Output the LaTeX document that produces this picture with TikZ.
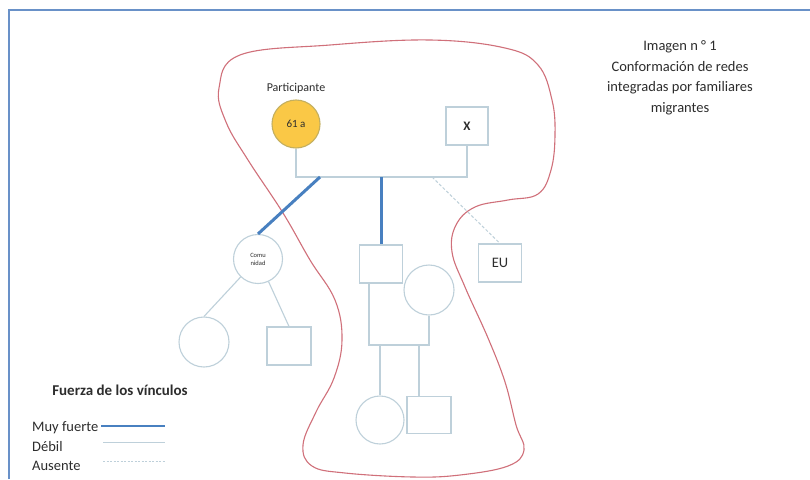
\documentclass[tikz,border=0pt]{standalone}
\usepackage{fontspec}
\setmainfont{Carlito}
\definecolor{framec}{RGB}{105,145,200}
\definecolor{strongc}{RGB}{72,128,192}
\definecolor{thinc}{RGB}{190,208,218}
\definecolor{redc}{RGB}{208,112,122}
\definecolor{yellowc}{RGB}{250,200,70}
\definecolor{yellowb}{RGB}{195,175,95}
\definecolor{textc}{RGB}{45,45,45}
\begin{document}
\begin{tikzpicture}[x=1pt,y=-1pt,
  thin/.style={draw=thinc, line width=1.1pt},
  strong/.style={draw=strongc, line width=3pt},
  absent/.style={draw=thinc, line width=1pt, dash pattern=on 3pt off 2pt},
  sq/.style={rectangle, draw=thinc, line width=1.1pt, minimum width=43pt, minimum height=38pt, inner sep=0pt, text=textc},
  circ/.style={circle, draw=thinc, line width=1.1pt, minimum size=50pt, inner sep=0pt, text=textc},
  lbl/.style={text=textc, inner sep=0pt},
  every node/.style={text=textc}]
\useasboundingbox (0,0) rectangle (810,479);
\fill[white] (0,0) rectangle (810,479);
% frame
\draw[framec, line width=2.5pt] (9,479) -- (9,10) -- (810,10);

% red enclosing curve
\draw[redc, line width=1.1pt] plot[smooth cycle, tension=0.65] coordinates {
  (219,88) (240,55) (330,45) (430,40) (505,48) (538,65) (552,100) (555,135) (551,170)
  (538,194) (508,200) (475,207) (456,225) (452,252) (465,287) (488,338) (505,382)
  (516,425) (524,450) (508,466) (460,475) (413,477) (345,473) (312,466) (303,445)
  (316,412) (334,378) (342,340) (335,300) (310,260) (283,213) (248,160) (226,122)};

% title
\node[lbl, align=center, font=\fontsize{14.5}{20.5}\selectfont] (title) at (680,78)
  {Imagen n ° 1\\Conformación de redes\\integradas por familiares\\migrantes};

% participant and partner
\node[lbl, font=\fontsize{12}{14}\selectfont] (plabel) at (296,88) {Participante};
\node[circ, fill=yellowc, draw=yellowb, minimum size=48pt, font=\fontsize{11}{13}\selectfont] (p) at (296,124) {61 a};
\node[sq, minimum width=42pt, minimum height=38pt, font=\fontsize{13}{15}\selectfont\bfseries] (x) at (467,126) {X};
\coordinate (hl) at (296,177);
\coordinate (hr) at (467,177);
\draw[thin] (p.south) -- (hl) -- (hr) -- (x.south);

% children of the couple
\node[circ, minimum size=49pt, align=center, font=\fontsize{6.5}{8}\selectfont] (com) at (258,259) {Comu\\nidad};
\node[sq] (a) at (381,264) {};
\node[sq, font=\fontsize{14.5}{16}\selectfont] (eu) at (500,263) {EU};
\coordinate (s1) at (320,177);
\coordinate (s2) at (381,177);
\coordinate (s3) at (432,177);
\draw[strong] (s1) -- (com.north);
\draw[strong] (s2) -- (a.north);
\draw[absent] (s3) -- (eu.north);

% family of a
\node[circ] (b) at (429,290) {};
\coordinate (j1) at (369,345);
\coordinate (j2) at (429,345);
\draw[thin] (j1 |- a.south) -- (j1) -- (j2) -- (b.south);
\node[circ, minimum size=48pt] (c) at (380,420) {};
\node[sq, minimum width=44pt, minimum height=37pt] (d) at (429,415) {};
\coordinate (k1) at (380,345);
\coordinate (k2) at (419,345);
\draw[thin] (k1) -- (c.north);
\draw[thin] (k2) -- (k2 |- d.north);

% community children
\node[circ] (c4) at (204,342) {};
\node[sq, minimum width=44pt, minimum height=38pt] (s4) at (289,346) {};
\draw[thin] (com.226) -- (c4.north);
\draw[thin] (com.-65) -- (s4.north);

% legend
\node[lbl, font=\fontsize{15}{17}\selectfont\bfseries] (lt) at (120,390) {Fuerza de los vínculos};
\node[lbl, anchor=west, font=\fontsize{14.5}{16}\selectfont] (l1) at (32,428) {Muy fuerte};
\node[lbl, anchor=west, font=\fontsize{14.5}{16}\selectfont] (l2) at (32,447) {Débil};
\node[lbl, anchor=west, font=\fontsize{14.5}{16}\selectfont] (l3) at (32,466) {Ausente};
\coordinate (m1a) at (101,426); \coordinate (m1b) at (165,426);
\coordinate (m2a) at (103,442); \coordinate (m2b) at (165,442);
\coordinate (m3a) at (103,461); \coordinate (m3b) at (165,461);
\draw[strong, line width=2.2pt] (m1a) -- (m1b);
\draw[thin, line width=1pt] (m2a) -- (m2b);
\draw[absent, line width=0.8pt, dash pattern=on 2pt off 1.5pt] (m3a) -- (m3b);
\end{tikzpicture}
\end{document}
